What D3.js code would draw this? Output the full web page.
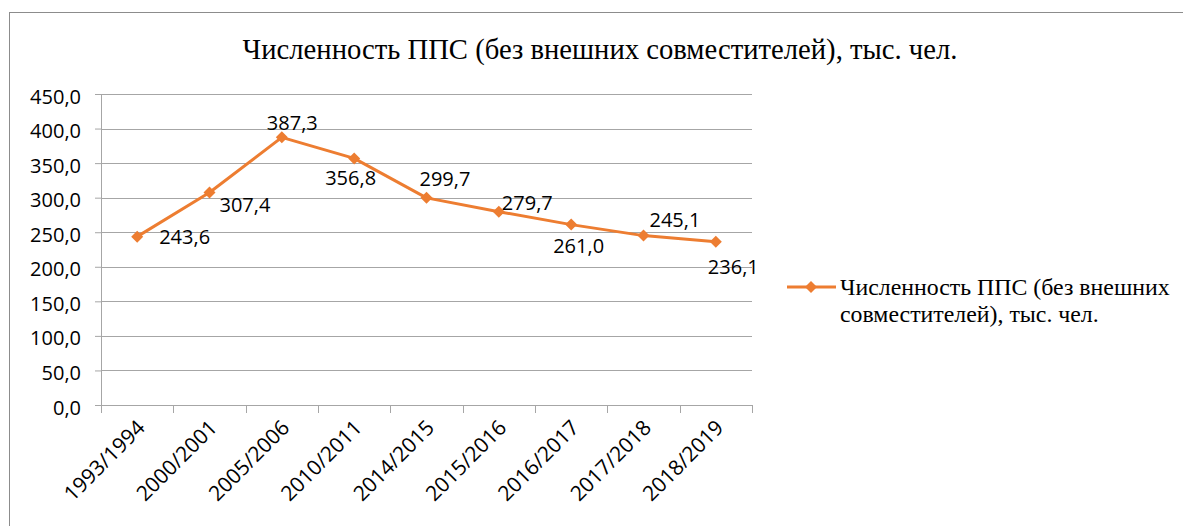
<!DOCTYPE html>
<html><head><meta charset="utf-8">
<script src="https://cdn.jsdelivr.net/npm/d3@7"></script>
<style>html,body{margin:0;padding:0;background:#fff;}</style>
</head><body>
<svg id="chart" width="1183" height="526"></svg>
<script>
const categories = ["1993/1994","2000/2001","2005/2006","2010/2011","2014/2015","2015/2016","2016/2017","2017/2018","2018/2019"];
const values = [243.6, 307.4, 387.3, 356.8, 299.7, 279.7, 261.0, 245.1, 236.1];
const yTicks = [0, 50, 100, 150, 200, 250, 300, 350, 400, 450];
const title = "Численность ППС (без внешних совместителей), тыс. чел.";
const legendLines = ["Численность ППС (без внешних", "совместителей), тыс. чел."];
// label placement (dx, dy relative to point)
const labelOffsets = [[22,7],[10,19],[-15,-7],[-29,27],[-7,-12],[3,-2],[-18,28],[6,-9],[-8,32]];

const color = "#ED7D31", grid = "#a6a6a6";
const numFont = "Open Sans";
const serif = "Liberation Serif";
const fmt = v => d3.format(".1f")(v).replace(".", ",");

const svg = d3.select("#chart");
svg.append("rect").attr("x",9.5).attr("y",12.5).attr("width",1200).attr("height",600)
  .attr("fill","#fff").attr("stroke","#8c8c8c").attr("stroke-width",1);

function fit(sel, target){
  const w = sel.node().getComputedTextLength();
  const fs = parseFloat(sel.attr("font-size"));
  if (w > 0) sel.attr("font-size", fs * target / w);
}

const t = svg.append("text").attr("font-family",serif).attr("font-size",28.6).attr("x",600).attr("y",59)
  .attr("text-anchor","middle").attr("fill","#000").text(title);
fit(t, 715);

const x = d3.scaleBand().domain(categories).range([101, 752]).padding(0);
const y = d3.scaleLinear().domain([0, 450]).range([405, 94]);
const cx = c => x(c) + x.bandwidth()/2;

// gridlines + y axis
const yAxis = d3.axisLeft(y).tickValues(yTicks).tickFormat(fmt).tickSize(6).tickPadding(14);
const gy = svg.append("g").attr("transform","translate(101,0)").call(yAxis);
gy.select(".domain").attr("stroke",grid);
gy.selectAll(".tick line").attr("stroke",grid);
gy.selectAll(".tick text").style("font-family",numFont).style("font-size","20px").attr("fill","#000").attr("dy","0.45em");
svg.append("g").selectAll("line").data(yTicks).join("line")
  .attr("x1",101).attr("x2",752).attr("y1",d=>Math.round(y(d))+0.5).attr("y2",d=>Math.round(y(d))+0.5)
  .attr("stroke",grid).attr("stroke-width",1);

// x axis
const gx = svg.append("g").attr("transform","translate(0,405)").call(d3.axisBottom(x).tickSize(0).tickPadding(0));
gx.select(".domain").remove();
gx.selectAll(".tick text").style("font-family",numFont).style("font-size","21px").attr("fill","#000")
  .attr("text-anchor","end").attr("dy",0).attr("transform","translate(9,24) rotate(-45)");
const bounds = categories.map(c => x(c)).concat([x.range()[1]]);
svg.append("g").selectAll("line").data(bounds).join("line")
  .attr("x1",d=>Math.round(d)+0.5).attr("x2",d=>Math.round(d)+0.5).attr("y1",405).attr("y2",413)
  .attr("stroke",grid);

// line + markers
const pts = categories.map((c,i)=>({c, v: values[i], i}));
svg.append("path").datum(pts).attr("fill","none").attr("stroke",color).attr("stroke-width",3)
  .attr("stroke-linejoin","round")
  .attr("d", d3.line().x(d=>cx(d.c)).y(d=>y(d.v)));
const sym = d3.symbol().type(d3.symbolSquare).size(72);
svg.append("g").selectAll("path").data(pts).join("path").attr("d",sym).attr("fill",color)
  .attr("transform",d=>`translate(${cx(d.c)},${y(d.v)}) rotate(45)`);
svg.append("g").selectAll("text").data(pts).join("text")
  .attr("x",d=>cx(d.c)+labelOffsets[d.i][0]).attr("y",d=>y(d.v)+labelOffsets[d.i][1])
  .style("font-family",numFont).style("font-size","20px").attr("fill","#000").text(d=>fmt(d.v));

// legend
const lg = svg.append("g");
lg.append("line").attr("x1",787).attr("x2",836).attr("y1",287).attr("y2",287).attr("stroke",color).attr("stroke-width",3);
lg.append("path").attr("d",sym).attr("fill",color).attr("transform","translate(811,287) rotate(45)");
const lt = lg.selectAll("text").data(legendLines).join("text").attr("font-family",serif).attr("font-size",23)
  .attr("x",840).attr("y",(d,i)=>295+i*27).attr("fill","#000").text(d=>d);
const l0 = d3.select(lt.nodes()[0]);
fit(l0, 330);
d3.select(lt.nodes()[1]).attr("font-size", l0.attr("font-size"));
</script>
</body></html>
